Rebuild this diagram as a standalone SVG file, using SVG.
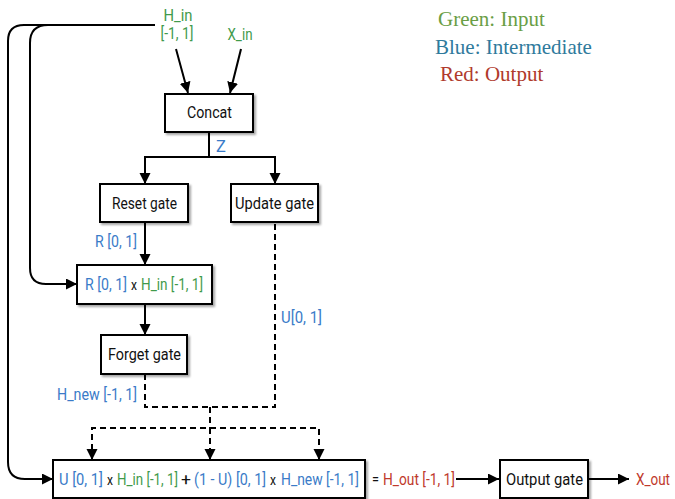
<svg xmlns="http://www.w3.org/2000/svg" width="675" height="499" viewBox="0 0 675 499">
  <defs>
    <marker id="arrow" markerUnits="userSpaceOnUse" markerWidth="12" markerHeight="12" refX="11" refY="5.5" orient="auto">
      <path d="M0,0 L11,5.5 L0,11 z" fill="#000"/>
    </marker>
    <filter id="shadow" x="-10%" y="-20%" width="130%" height="150%">
      <feDropShadow dx="2" dy="2" stdDeviation="1.2" flood-color="#000" flood-opacity="0.35"/>
    </filter>
    <style>
      .box { fill: #fff; stroke: #000; stroke-width: 2; filter: url(#shadow); }
      .line { fill: none; stroke: #000; stroke-width: 2; }
      .dash { fill: none; stroke: #000; stroke-width: 2; stroke-dasharray: 6 4; }
      .lbl { font-family: Roboto, "Liberation Sans", sans-serif; font-size: 16.5px; fill: #111; }
      .op { font-family: Roboto, "Liberation Sans", sans-serif; font-size: 14px; fill: #111; }
      .c { text-anchor: middle; }
      .r { text-anchor: end; }
      .g { fill: #3f9a4b; }
      .b { fill: #3a7bc8; }
      .red { fill: #c0392b; }
      .legend { font-family: "Liberation Serif", "Times New Roman", serif; font-size: 21px; }
    </style>
  </defs>

  <!-- legend -->
  <g id="legend">
    <text class="legend" x="438" y="26" fill="#6a9e45">Green: Input</text>
    <text class="legend" x="435" y="54" fill="#2f7a9c">Blue: Intermediate</text>
    <text class="legend" x="440" y="81" fill="#b03a2c">Red: Output</text>
  </g>

  <!-- inputs -->
  <g id="h_in">
    <text class="lbl g c" x="178" y="21" textLength="29" lengthAdjust="spacingAndGlyphs">H_in</text>
    <text class="lbl g c" x="177" y="39" textLength="33" lengthAdjust="spacingAndGlyphs">[-1, 1]</text>
  </g>
  <g id="x_in">
    <text class="lbl g c" x="240" y="40" textLength="25" lengthAdjust="spacingAndGlyphs">X_in</text>
  </g>

  <!-- connectors -->
  <g id="connectors">
    <path class="line" d="M176,49 L188,93" marker-end="url(#arrow)"/>
    <path class="line" d="M241,49 L230,93" marker-end="url(#arrow)"/>
    <path class="line" d="M209,132 V157"/>
    <path class="line" d="M145,157 H275"/>
    <path class="line" d="M145,156 V184" marker-end="url(#arrow)"/>
    <path class="line" d="M275,156 V184" marker-end="url(#arrow)"/>
    <path class="line" d="M145,222 V265" marker-end="url(#arrow)"/>
    <path class="line" d="M145,304 V335" marker-end="url(#arrow)"/>
    <!-- skip connections from H_in -->
    <path class="line" d="M155,25 H24 Q8,25 8,41 V462 Q8,479 25,479 H53" marker-end="url(#arrow)"/>
    <path class="line" d="M48,25 Q30,25 30,43 V268 Q30,284 46,284 H77" marker-end="url(#arrow)"/>
    <!-- dashed gate outputs -->
    <path class="dash" d="M145,374 V407 H275 V222"/>
    <path class="dash" d="M210,407 V428"/>
    <path class="dash" d="M92,460 V428 H319 V460"/>
    <path class="line" d="M92,452 V460" marker-end="url(#arrow)"/>
    <path class="dash" d="M210,428 V460"/>
    <path class="line" d="M210,452 V460" marker-end="url(#arrow)"/>
    <path class="line" d="M319,452 V460" marker-end="url(#arrow)"/>
    <!-- output -->
    <path class="line" d="M456,479 H499" marker-end="url(#arrow)"/>
    <path class="line" d="M589,479 H629" marker-end="url(#arrow)"/>
  </g>

  <g id="concat">
    <rect class="box" x="165" y="94" width="88" height="38"/>
    <text class="lbl c" x="209.5" y="118" textLength="45" lengthAdjust="spacingAndGlyphs">Concat</text>
  </g>
  <text class="lbl b" x="216" y="152">Z</text>

  <g id="reset_gate">
    <rect class="box" x="100" y="184" width="88" height="38"/>
    <text class="lbl c" x="144.5" y="209" textLength="65" lengthAdjust="spacingAndGlyphs">Reset gate</text>
  </g>
  <g id="update_gate">
    <rect class="box" x="231" y="184" width="87" height="38"/>
    <text class="lbl c" x="274.5" y="209" textLength="79" lengthAdjust="spacingAndGlyphs">Update gate</text>
  </g>
  <text class="lbl b r" x="137" y="247" textLength="42" lengthAdjust="spacingAndGlyphs">R [0, 1]</text>

  <g id="reset_product">
    <rect class="box" x="77" y="265" width="135" height="39"/>
    <text class="lbl b" x="85" y="290" textLength="42" lengthAdjust="spacingAndGlyphs">R [0, 1]</text>
    <text class="op" x="131" y="290" textLength="6" lengthAdjust="spacingAndGlyphs">x</text>
    <text class="lbl g" x="141" y="290" textLength="62" lengthAdjust="spacingAndGlyphs">H_in [-1, 1]</text>
  </g>
  <text class="lbl b" x="281" y="323" textLength="41" lengthAdjust="spacingAndGlyphs">U[0, 1]</text>

  <g id="forget_gate">
    <rect class="box" x="101" y="335" width="86" height="39"/>
    <text class="lbl c" x="144.5" y="360" textLength="73" lengthAdjust="spacingAndGlyphs">Forget gate</text>
  </g>
  <text class="lbl b r" x="137" y="400" textLength="80" lengthAdjust="spacingAndGlyphs">H_new [-1, 1]</text>

  <g id="update_sum">
    <rect class="box" x="53" y="460" width="312" height="38"/>
    <text class="lbl b" x="59" y="485" textLength="44" lengthAdjust="spacingAndGlyphs">U [0, 1]</text>
    <text class="op" x="107" y="485" textLength="6" lengthAdjust="spacingAndGlyphs">x</text>
    <text class="lbl g" x="117" y="485" textLength="61" lengthAdjust="spacingAndGlyphs">H_in [-1, 1]</text>
    <text class="lbl" x="181" y="485" textLength="10" lengthAdjust="spacingAndGlyphs">+</text>
    <text class="lbl b" x="194" y="485" textLength="72" lengthAdjust="spacingAndGlyphs">(1 - U) [0, 1]</text>
    <text class="op" x="270" y="485" textLength="6" lengthAdjust="spacingAndGlyphs">x</text>
    <text class="lbl b" x="281" y="485" textLength="78" lengthAdjust="spacingAndGlyphs">H_new [-1, 1]</text>
  </g>
  <text class="lbl" x="372" y="485" textLength="7" lengthAdjust="spacingAndGlyphs">=</text>
  <text class="lbl red" x="383" y="485" textLength="72" lengthAdjust="spacingAndGlyphs">H_out [-1, 1]</text>

  <g id="output_gate">
    <rect class="box" x="500" y="460" width="88" height="38"/>
    <text class="lbl c" x="544.5" y="485" textLength="77" lengthAdjust="spacingAndGlyphs">Output gate</text>
  </g>
  <g id="x_out">
    <text class="lbl red r" x="670" y="485" textLength="34" lengthAdjust="spacingAndGlyphs">X_out</text>
  </g>
</svg>
